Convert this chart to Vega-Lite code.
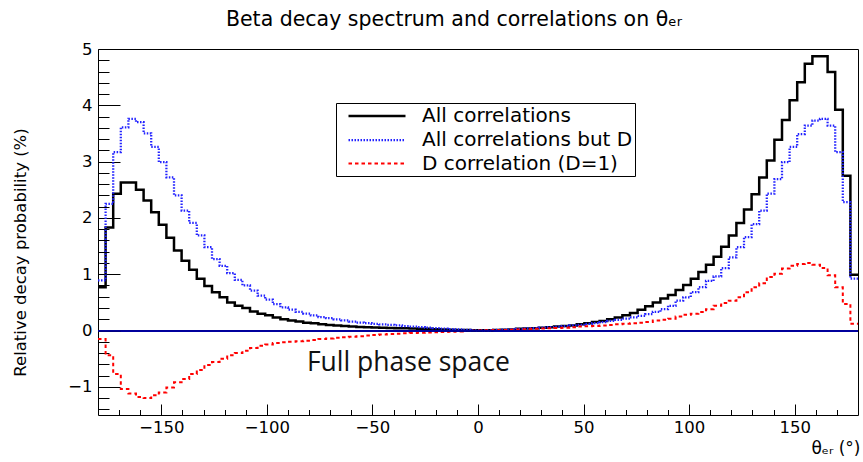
{
 "$schema": "https://vega.github.io/schema/vega-lite/v6.json",
 "width": 760,
 "height": 366,
 "autosize": {"type": "none"},
 "padding": {"left": 98, "top": 49, "right": 5, "bottom": 47},
 "background": "#ffffff",
 "config": {
  "view": {"stroke": "#000000", "strokeWidth": 1},
  "font": "DejaVu Sans",
  "axis": {"grid": false, "domain": false, "labelFont": "DejaVu Sans", "labelColor": "#000000", "tickColor": "#000000", "tickWidth": 1, "labelFlush": false, "labelOverlap": false}
 },
 "title": {"text": "Beta decay spectrum and correlations on θₑᵣ", "font": "DejaVu Sans", "fontSize": 20.5, "fontWeight": "normal", "anchor": "middle", "offset": 11, "dx": -24, "color": "#000000"},
 "data": {"values": [
  {"lo": -180, "hi": -176.4, "all": 0.77, "noD": 0.89, "D": -0.15},
  {"lo": -176.4, "hi": -172.8, "all": 1.83, "noD": 2.25, "D": -0.44},
  {"lo": -172.8, "hi": -169.2, "all": 2.43, "noD": 3.17, "D": -0.77},
  {"lo": -169.2, "hi": -165.6, "all": 2.63, "noD": 3.61, "D": -1.04},
  {"lo": -165.6, "hi": -162, "all": 2.63, "noD": 3.76, "D": -1.12},
  {"lo": -162, "hi": -158.4, "all": 2.50, "noD": 3.70, "D": -1.18},
  {"lo": -158.4, "hi": -154.8, "all": 2.31, "noD": 3.50, "D": -1.20},
  {"lo": -154.8, "hi": -151.2, "all": 2.10, "noD": 3.26, "D": -1.15},
  {"lo": -151.2, "hi": -147.6, "all": 1.88, "noD": 2.99, "D": -1.10},
  {"lo": -147.6, "hi": -144, "all": 1.65, "noD": 2.72, "D": -1.01},
  {"lo": -144, "hi": -140.4, "all": 1.42, "noD": 2.40, "D": -0.92},
  {"lo": -140.4, "hi": -136.8, "all": 1.24, "noD": 2.13, "D": -0.86},
  {"lo": -136.8, "hi": -133.2, "all": 1.08, "noD": 1.91, "D": -0.77},
  {"lo": -133.2, "hi": -129.6, "all": 0.92, "noD": 1.69, "D": -0.70},
  {"lo": -129.6, "hi": -126, "all": 0.79, "noD": 1.48, "D": -0.61},
  {"lo": -126, "hi": -122.4, "all": 0.68, "noD": 1.27, "D": -0.56},
  {"lo": -122.4, "hi": -118.8, "all": 0.59, "noD": 1.15, "D": -0.50},
  {"lo": -118.8, "hi": -115.2, "all": 0.50, "noD": 1.02, "D": -0.44},
  {"lo": -115.2, "hi": -111.6, "all": 0.44, "noD": 0.90, "D": -0.40},
  {"lo": -111.6, "hi": -108, "all": 0.40, "noD": 0.80, "D": -0.36},
  {"lo": -108, "hi": -104.4, "all": 0.34, "noD": 0.71, "D": -0.31},
  {"lo": -104.4, "hi": -100.8, "all": 0.30, "noD": 0.62, "D": -0.27},
  {"lo": -100.8, "hi": -97.2, "all": 0.27, "noD": 0.55, "D": -0.25},
  {"lo": -97.2, "hi": -93.6, "all": 0.23, "noD": 0.47, "D": -0.22},
  {"lo": -93.6, "hi": -90, "all": 0.20, "noD": 0.41, "D": -0.21},
  {"lo": -90, "hi": -86.4, "all": 0.18, "noD": 0.37, "D": -0.20},
  {"lo": -86.4, "hi": -82.8, "all": 0.16, "noD": 0.33, "D": -0.19},
  {"lo": -82.8, "hi": -79.2, "all": 0.14, "noD": 0.30, "D": -0.18},
  {"lo": -79.2, "hi": -75.6, "all": 0.13, "noD": 0.27, "D": -0.17},
  {"lo": -75.6, "hi": -72, "all": 0.11, "noD": 0.24, "D": -0.15},
  {"lo": -72, "hi": -68.4, "all": 0.10, "noD": 0.22, "D": -0.14},
  {"lo": -68.4, "hi": -64.8, "all": 0.09, "noD": 0.20, "D": -0.13},
  {"lo": -64.8, "hi": -61.2, "all": 0.08, "noD": 0.18, "D": -0.12},
  {"lo": -61.2, "hi": -57.6, "all": 0.07, "noD": 0.16, "D": -0.11},
  {"lo": -57.6, "hi": -54, "all": 0.065, "noD": 0.14, "D": -0.10},
  {"lo": -54, "hi": -50.4, "all": 0.06, "noD": 0.13, "D": -0.09},
  {"lo": -50.4, "hi": -46.8, "all": 0.055, "noD": 0.12, "D": -0.08},
  {"lo": -46.8, "hi": -43.2, "all": 0.05, "noD": 0.11, "D": -0.07},
  {"lo": -43.2, "hi": -39.6, "all": 0.045, "noD": 0.10, "D": -0.06},
  {"lo": -39.6, "hi": -36, "all": 0.04, "noD": 0.09, "D": -0.055},
  {"lo": -36, "hi": -32.4, "all": 0.04, "noD": 0.08, "D": -0.05},
  {"lo": -32.4, "hi": -28.8, "all": 0.035, "noD": 0.07, "D": -0.045},
  {"lo": -28.8, "hi": -25.2, "all": 0.03, "noD": 0.06, "D": -0.04},
  {"lo": -25.2, "hi": -21.6, "all": 0.03, "noD": 0.05, "D": -0.035},
  {"lo": -21.6, "hi": -18, "all": 0.025, "noD": 0.045, "D": -0.03},
  {"lo": -18, "hi": -14.4, "all": 0.02, "noD": 0.035, "D": -0.025},
  {"lo": -14.4, "hi": -10.8, "all": 0.015, "noD": 0.025, "D": -0.02},
  {"lo": -10.8, "hi": -7.2, "all": 0.01, "noD": 0.02, "D": -0.015},
  {"lo": -7.2, "hi": -3.6, "all": 0.01, "noD": 0.01, "D": -0.01},
  {"lo": -3.6, "hi": 0, "all": 0.005, "noD": 0.005, "D": -0.005},
  {"lo": 0, "hi": 3.6, "all": 0.005, "noD": 0.005, "D": 0},
  {"lo": 3.6, "hi": 7.2, "all": 0.005, "noD": 0.005, "D": 0.005},
  {"lo": 7.2, "hi": 10.8, "all": 0.01, "noD": 0.01, "D": 0.01},
  {"lo": 10.8, "hi": 14.4, "all": 0.015, "noD": 0.015, "D": 0.01},
  {"lo": 14.4, "hi": 18, "all": 0.02, "noD": 0.02, "D": 0.015},
  {"lo": 18, "hi": 21.6, "all": 0.03, "noD": 0.03, "D": 0.02},
  {"lo": 21.6, "hi": 25.2, "all": 0.035, "noD": 0.04, "D": 0.025},
  {"lo": 25.2, "hi": 28.8, "all": 0.04, "noD": 0.045, "D": 0.03},
  {"lo": 28.8, "hi": 32.4, "all": 0.05, "noD": 0.05, "D": 0.035},
  {"lo": 32.4, "hi": 36, "all": 0.06, "noD": 0.06, "D": 0.04},
  {"lo": 36, "hi": 39.6, "all": 0.07, "noD": 0.07, "D": 0.045},
  {"lo": 39.6, "hi": 43.2, "all": 0.08, "noD": 0.08, "D": 0.05},
  {"lo": 43.2, "hi": 46.8, "all": 0.09, "noD": 0.09, "D": 0.06},
  {"lo": 46.8, "hi": 50.4, "all": 0.11, "noD": 0.10, "D": 0.07},
  {"lo": 50.4, "hi": 54, "all": 0.13, "noD": 0.12, "D": 0.075},
  {"lo": 54, "hi": 57.6, "all": 0.15, "noD": 0.13, "D": 0.08},
  {"lo": 57.6, "hi": 61.2, "all": 0.17, "noD": 0.15, "D": 0.09},
  {"lo": 61.2, "hi": 64.8, "all": 0.20, "noD": 0.17, "D": 0.10},
  {"lo": 64.8, "hi": 68.4, "all": 0.23, "noD": 0.19, "D": 0.11},
  {"lo": 68.4, "hi": 72, "all": 0.27, "noD": 0.21, "D": 0.12},
  {"lo": 72, "hi": 75.6, "all": 0.31, "noD": 0.235, "D": 0.13},
  {"lo": 75.6, "hi": 79.2, "all": 0.37, "noD": 0.26, "D": 0.14},
  {"lo": 79.2, "hi": 82.8, "all": 0.43, "noD": 0.29, "D": 0.15},
  {"lo": 82.8, "hi": 86.4, "all": 0.50, "noD": 0.33, "D": 0.18},
  {"lo": 86.4, "hi": 90, "all": 0.57, "noD": 0.38, "D": 0.19},
  {"lo": 90, "hi": 93.6, "all": 0.63, "noD": 0.44, "D": 0.21},
  {"lo": 93.6, "hi": 97.2, "all": 0.72, "noD": 0.53, "D": 0.25},
  {"lo": 97.2, "hi": 100.8, "all": 0.81, "noD": 0.59, "D": 0.28},
  {"lo": 100.8, "hi": 104.4, "all": 0.92, "noD": 0.68, "D": 0.30},
  {"lo": 104.4, "hi": 108, "all": 1.04, "noD": 0.77, "D": 0.33},
  {"lo": 108, "hi": 111.6, "all": 1.17, "noD": 0.88, "D": 0.38},
  {"lo": 111.6, "hi": 115.2, "all": 1.31, "noD": 0.96, "D": 0.44},
  {"lo": 115.2, "hi": 118.8, "all": 1.49, "noD": 1.11, "D": 0.49},
  {"lo": 118.8, "hi": 122.4, "all": 1.69, "noD": 1.30, "D": 0.53},
  {"lo": 122.4, "hi": 126, "all": 1.91, "noD": 1.48, "D": 0.59},
  {"lo": 126, "hi": 129.6, "all": 2.15, "noD": 1.66, "D": 0.68},
  {"lo": 129.6, "hi": 133.2, "all": 2.42, "noD": 1.89, "D": 0.77},
  {"lo": 133.2, "hi": 136.8, "all": 2.72, "noD": 2.13, "D": 0.84},
  {"lo": 136.8, "hi": 140.4, "all": 3.02, "noD": 2.43, "D": 0.95},
  {"lo": 140.4, "hi": 144, "all": 3.39, "noD": 2.69, "D": 1.01},
  {"lo": 144, "hi": 147.6, "all": 3.74, "noD": 2.99, "D": 1.10},
  {"lo": 147.6, "hi": 151.2, "all": 4.09, "noD": 3.26, "D": 1.15},
  {"lo": 151.2, "hi": 154.8, "all": 4.41, "noD": 3.49, "D": 1.18},
  {"lo": 154.8, "hi": 158.4, "all": 4.74, "noD": 3.64, "D": 1.20},
  {"lo": 158.4, "hi": 162, "all": 4.87, "noD": 3.73, "D": 1.17},
  {"lo": 162, "hi": 165.6, "all": 4.87, "noD": 3.76, "D": 1.11},
  {"lo": 165.6, "hi": 169.2, "all": 4.59, "noD": 3.64, "D": 0.98},
  {"lo": 169.2, "hi": 172.8, "all": 3.92, "noD": 3.17, "D": 0.77},
  {"lo": 172.8, "hi": 176.4, "all": 2.75, "noD": 2.28, "D": 0.47},
  {"lo": 176.4, "hi": 180, "all": 0.99, "noD": 0.92, "D": 0.12}
 ]},
 "layer": [
  {
   "transform": [
    {"fold": ["all", "noD", "D"], "as": ["series", "value"]},
    {"fold": ["lo", "hi"], "as": ["edge", "x"]}
   ],
   "mark": {"type": "line", "interpolate": "linear", "strokeCap": "butt", "strokeJoin": "miter"},
   "encoding": {
    "x": {"field": "x", "type": "quantitative", "scale": {"domain": [-180, 180], "nice": false, "zero": false},
     "axis": {"orient": "bottom", "values": [-150, -100, -50, 0, 50, 100, 150], "tickSize": -11, "labelFontSize": 16.5, "labelPadding": 15,
      "title": "θₑᵣ (°)", "titleFont": "DejaVu Sans", "titleFontSize": 17, "titleFontWeight": "normal", "titleColor": "#000000",
      "titleX": 762, "titleY": 38, "titleAlign": "right", "titleBaseline": "alphabetic", "titleAnchor": "end"}},
    "y": {"field": "value", "type": "quantitative", "scale": {"domain": [-1.5, 5], "nice": false, "zero": false},
     "axis": {"orient": "left", "values": [-1, 0, 1, 2, 3, 4, 5], "tickSize": -22, "labelFontSize": 16.5, "labelPadding": 28,
      "title": "Relative decay probability (%)", "titleFont": "DejaVu Sans", "titleFontSize": 16.5, "titleFontWeight": "normal", "titleColor": "#000000",
      "titleX": -78, "titleY": 203, "titleAngle": 270, "titleAlign": "center", "titleBaseline": "middle"}},
    "color": {"field": "series", "type": "nominal",
     "scale": {"domain": ["all", "noD", "D"], "range": ["#000000", "#2222ff", "#ff0000"]},
     "legend": {"orient": "none", "legendX": 238, "legendY": 54, "title": null, "symbolType": "M-3,0H3", "symbolSize": 361,
      "labelFont": "DejaVu Sans", "labelFontSize": 20, "labelColor": "#000000", "labelOffset": 34, "labelLimit": 500, "padding": 2, "symbolOffset": 28,
      "strokeColor": "#000000", "fillColor": "#ffffff", "rowPadding": 3,
      "labelExpr": "datum.label == 'all' ? 'All correlations' : (datum.label == 'noD' ? 'All correlations but D' : 'D correlation (D=1)')"}},
    "strokeDash": {"field": "series", "type": "nominal",
     "scale": {"domain": ["all", "noD", "D"], "range": [[1, 0], [1.5, 1.5], [3.5, 3]]}},
    "strokeWidth": {"field": "series", "type": "nominal",
     "scale": {"domain": ["all", "noD", "D"], "range": [2.5, 2, 3]}},
    "order": [{"field": "lo", "type": "quantitative"}, {"field": "x", "type": "quantitative"}]
   }
  },
  {
   "mark": {"type": "rule", "color": "#000099", "strokeWidth": 1},
   "encoding": {"y": {"datum": 0, "axis": null}}
  },
  {
   "data": {"values": [{"tx": -33, "ty": -0.71, "label": "Full phase space"}]},
   "mark": {"type": "text", "font": "Open Sans", "fontSize": 26.5, "align": "center", "baseline": "alphabetic", "color": "#111111"},
   "encoding": {
    "x": {"field": "tx", "type": "quantitative",
     "axis": {"orient": "bottom", "values": [-170, -160, -140, -130, -120, -110, -90, -80, -70, -60, -40, -30, -20, -10, 10, 20, 30, 40, 60, 70, 80, 90, 110, 120, 130, 140, 160, 170], "tickSize": -5.5, "labels": false, "domain": false, "title": null}},
    "y": {"field": "ty", "type": "quantitative",
     "axis": {"orient": "left", "values": [-1.4, -1.2, -0.8, -0.6, -0.4, -0.2, 0.2, 0.4, 0.6, 0.8, 1.2, 1.4, 1.6, 1.8, 2.2, 2.4, 2.6, 2.8, 3.2, 3.4, 3.6, 3.8, 4.2, 4.4, 4.6, 4.8], "tickSize": -11, "labels": false, "domain": false, "title": null}},
    "text": {"field": "label", "type": "nominal"}
   }
  }
 ],
 "resolve": {"axis": {"x": "independent", "y": "independent"}}
}
